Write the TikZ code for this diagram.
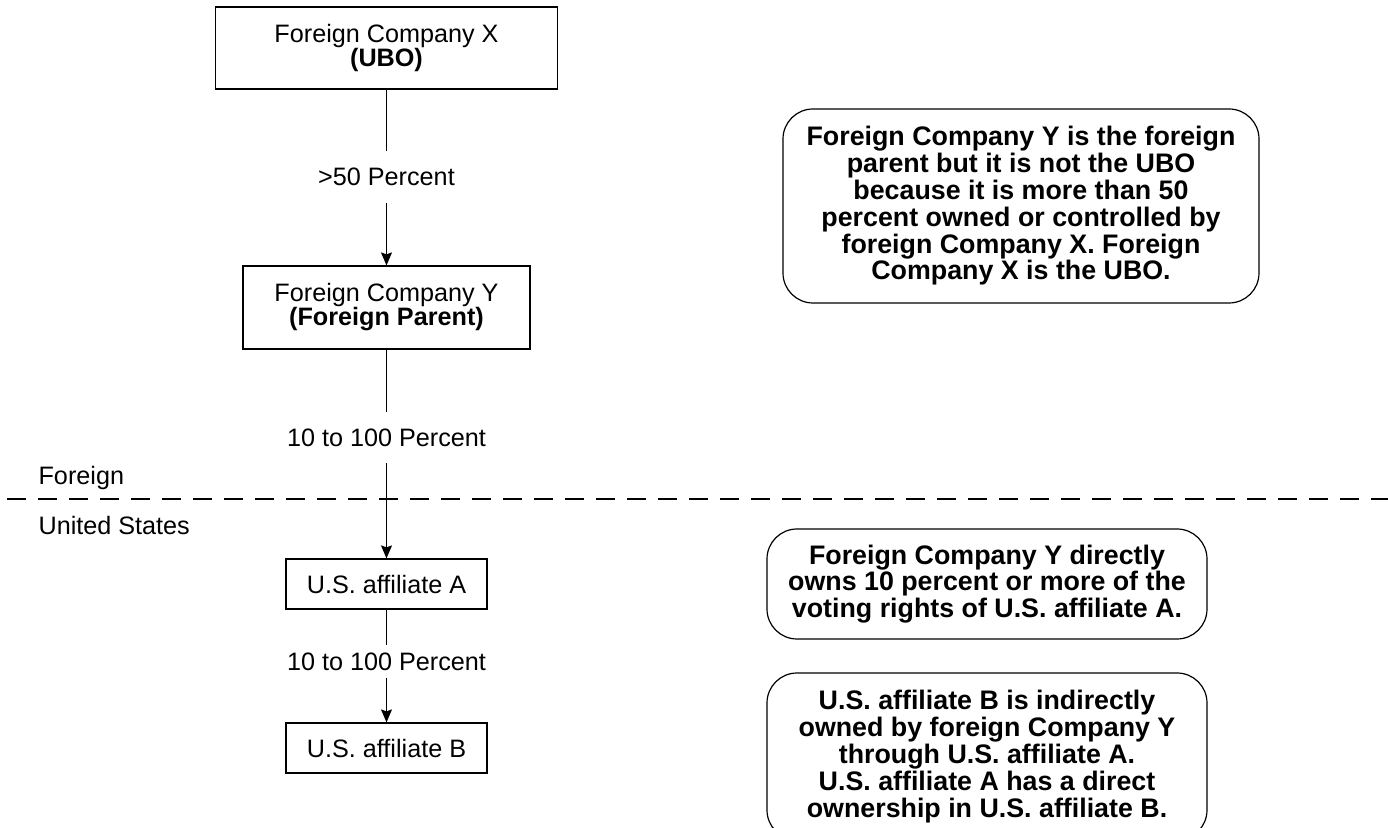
\documentclass[tikz,border=0pt]{standalone}
\usepackage{fontspec}
\setmainfont{Liberation Sans}
\usepackage{tikz}
\usetikzlibrary{arrows.meta}

\begin{document}
\begin{tikzpicture}[x=0.5pt, y=-0.5pt, line width=0.6pt,
        font=\fontsize{12.6}{12}\selectfont,
        box_style/.style={rectangle,draw=black,align=center,inner sep=0pt},
        note_style/.style={rectangle,rounded corners=15pt,draw=black,align=center,inner sep=0pt,font=\fontsize{13.4}{13.4}\selectfont\bfseries},
        pct_style/.style={inner xsep=2pt,inner ysep=8pt},
        side_style/.style={anchor=west,inner sep=0pt},
        line_style/.style={draw=black},
        edge_style/.style={draw=black,-{Stealth[length=6.5pt,width=5.5pt,inset=1pt]}},
        border_style/.style={draw=black,dash pattern=on 9.5pt off 6pt}]

        \useasboundingbox (0,0) rectangle (1388,828);

        \node [box_style,minimum width=171pt,minimum height=41pt](n1) at (386.5,48) {Foreign Company X\\\textbf{(UBO)}};

        \node [box_style,minimum width=143.5pt,minimum height=41.5pt](n2) at (386.5,307.5) {Foreign Company Y\\\textbf{(Foreign Parent)}};

        \node [box_style,minimum width=100.5pt,minimum height=25pt](n3) at (386.5,584) {U.S. affiliate A};

        \node [box_style,minimum width=100.5pt,minimum height=25pt](n4) at (386.5,748) {U.S. affiliate B};

        \node [pct_style](p1) at (386.5,177) {>50 Percent};

        \node [pct_style](p2) at (386.5,437.5) {10 to 100 Percent};

        \node [pct_style,inner ysep=3.25pt](p3) at (386.5,661.5) {10 to 100 Percent};

        \node [side_style](s1) at (38,478) {Foreign};

        \node [side_style](s2) at (38,525) {United States};

        \coordinate (b1) at (7,499);
        \coordinate (b2) at (1388,499);

        \node [note_style,minimum width=238pt,minimum height=97pt](t1) at (1021,206) {Foreign Company Y is the foreign\\parent but it is not the UBO\\because it is more than 50\\percent owned or controlled by\\foreign Company X. Foreign\\Company X is the UBO.};

        \node [note_style,minimum width=220pt,minimum height=55pt](t2) at (987,584) {Foreign Company Y directly\\owns 10 percent or more of the\\voting rights of U.S. affiliate A.};

        \node [note_style,minimum width=220pt,minimum height=83.5pt](t3) at (987,756.5) {U.S. affiliate B is indirectly\\owned by foreign Company Y\\through U.S. affiliate A.\\U.S. affiliate A has a direct\\ownership in U.S. affiliate B.};

        \draw [border_style] (b1) -- (b2);

        \draw [line_style] (n1) -- (p1);

        \draw [edge_style] (p1) -- (n2);

        \draw [line_style] (n2) -- (p2);

        \draw [edge_style] (p2) -- (n3);

        \draw [line_style] (n3) -- (p3);

        \draw [edge_style] (p3) -- (n4);

        \end{tikzpicture}
\end{document}
